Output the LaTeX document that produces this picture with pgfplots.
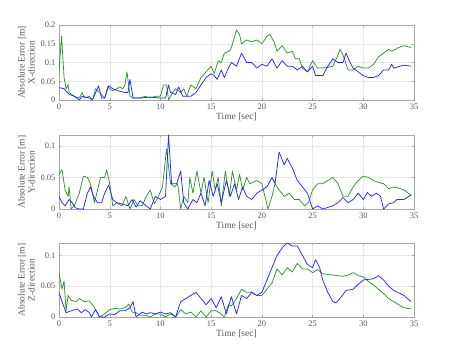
\documentclass[border=0pt]{standalone}
\usepackage{fontspec}
\setmainfont{Liberation Serif}
\usepackage{pgfplots}
\pgfplotsset{compat=1.18}

\definecolor{errgreen}{rgb}{0.18,0.58,0.18}
\definecolor{errblue}{rgb}{0.15,0.15,1}

\pgfplotsset{
  errax/.style={
    scale only axis, width=355pt, height=74pt,
    anchor=south west,
    xmin=0, xmax=35, ymin=0,
    xtick={0,5,...,35},
    axis line style={gray!70},
    grid=major, major grid style={gray!18, line width=0.4pt},
    tick style={gray!70}, major tick length=2pt,
    tick align=inside,
    tick label style={font=\fontsize{8.5}{9.5}\selectfont, text=black!65},
    label style={font=\fontsize{9.5}{10}\selectfont, text=black!65},
    /pgf/number format/assume math mode=true,
    /pgf/number format/fixed,
    /pgf/number format/precision=2,
    scaled y ticks=false,
    xlabel={Time [sec]},
    xlabel style={yshift=3pt},
    ylabel style={align=center, yshift=-1pt},
    every axis plot/.append style={line width=0.75pt, line join=round},
  }
}

\begin{document}
\begin{tikzpicture}
\useasboundingbox (0pt,0pt) rectangle (457pt,362pt);

% X-direction
\begin{axis}[errax, at={(59pt,262pt)}, height=75pt, ymax=0.2,
  ytick={0,0.05,0.1,0.15,0.2},
  ylabel={Absolute Error [m]\\X-direction}]
\addplot[errgreen] coordinates {
(0,0.076)(0.25,0.17)(0.5,0.06)(0.7,0.03)(0.9,0.04)(1.0,0.02)(1.5,0.01)(2,0.005)
(2.3,0.02)(2.5,0.005)(3,0.01)(3.3,0.0)(3.6,0.03)(4,0.02)(4.5,0.005)(4.8,0.035)
(5,0.03)(5.3,0.025)(5.7,0.03)(6,0.035)(6.3,0.03)(6.5,0.04)(6.7,0.075)(7,0.01)
(7.3,0.005)(8,0.005)(8.5,0.01)(9,0.005)(9.5,0.01)(10,0.01)(10.3,0.04)(10.6,0.04)
(10.8,0.0)(11.2,0.02)(11.5,0.03)(12,0.02)(12.3,0.03)(12.6,0.01)(13,0.04)(13.5,0.03)
(14,0.06)(14.5,0.075)(15,0.09)(15.3,0.07)(15.7,0.105)(16,0.1)(16.3,0.125)(16.8,0.13)
(17,0.14)(17.5,0.187)(17.8,0.175)(18,0.15)(18.5,0.16)(19,0.155)(19.5,0.16)(20,0.15)
(20.5,0.17)(20.8,0.175)(21.2,0.155)(21.5,0.13)(22,0.145)(22.5,0.125)(23,0.13)
(23.3,0.11)(23.7,0.11)(24,0.085)(24.5,0.075)(25,0.105)(25.5,0.085)(26,0.085)
(27,0.09)(27.5,0.12)(27.7,0.135)(28,0.12)(28.5,0.08)(29,0.08)(29.5,0.09)(30,0.085)
(30.5,0.085)(31,0.095)(31.5,0.115)(32,0.125)(32.5,0.135)(32.8,0.13)(33.5,0.14)
(34,0.145)(34.7,0.14)
};
\addplot[errblue] coordinates {
(0,0.033)(0.5,0.03)(1,0.015)(1.5,0.01)(2,0.0)(2.3,0.01)(3,0.005)(3.3,0.0)
(3.7,0.025)(3.9,0.038)(4.2,0.005)(4.5,0.005)(4.9,0.038)(5.3,0.03)(5.8,0.025)
(6.5,0.02)(6.8,0.02)(7.0,0.055)(7.3,0.005)(8,0.005)(9,0.008)(10,0.005)(10.5,0.005)
(10.8,0.04)(11,0.02)(11.5,0.015)(11.8,0.035)(12.2,0.01)(12.5,0.01)(13,0.01)
(13.5,0.02)(14,0.04)(14.5,0.06)(15,0.07)(15.3,0.065)(15.6,0.055)(16,0.08)(16.3,0.06)
(16.7,0.085)(17,0.1)(17.5,0.09)(18,0.125)(18.5,0.1)(19,0.1)(19.5,0.085)(20,0.095)
(20.5,0.09)(21,0.11)(21.5,0.085)(22,0.105)(22.5,0.09)(23,0.09)(23.5,0.08)(24,0.09)
(24.5,0.075)(25,0.09)(25.3,0.065)(26,0.065)(26.5,0.09)(27,0.11)(27.5,0.1)(28,0.1)
(28.3,0.125)(28.7,0.1)(29,0.085)(29.5,0.075)(30,0.065)(30.5,0.06)(31,0.06)
(31.5,0.065)(32,0.08)(32.5,0.08)(32.8,0.095)(33,0.085)(34,0.093)(34.7,0.09)
};
\end{axis}

% Y-direction
\begin{axis}[errax, at={(59pt,153pt)}, ymax=0.117,
  ytick={0,0.05,0.1},
  ylabel={Absolute Error [m]\\Y-direction}]
\addplot[errgreen] coordinates {
(0,0.055)(0.3,0.062)(0.6,0.03)(0.9,0.02)(1.0,0.035)(1.2,0.0)(1.5,0.005)(2,0.025)
(2.4,0.052)(2.8,0.05)(3.1,0.04)(3.5,0.01)(3.8,0.03)(4.1,0.05)(4.5,0.05)(4.7,0.062)
(5,0.04)(5.3,0.005)(5.7,0.01)(6.2,0.005)(6.6,0.02)(7.0,0.0)(7.4,0.015)(7.8,0.005)
(8.2,0.005)(8.6,0.02)(9,0.03)(9.4,0.008)(9.8,0.02)(10.2,0.035)(10.6,0.095)(11,0.04)
(11.4,0.035)(11.7,0.04)(12.0,0.0)(12.3,0.02)(12.7,0.01)(12.9,0.05)(13.2,0.025)
(13.6,0.06)(14,0.025)(14.3,0.05)(14.7,0.01)(15.1,0.06)(15.4,0.03)(15.7,0.05)
(16.0,0.005)(16.4,0.06)(16.8,0.02)(17.1,0.06)(17.5,0.03)(17.8,0.055)(18.1,0.03)
(18.5,0.05)(18.8,0.04)(19.5,0.045)(20,0.04)(20.3,0.02)(20.6,0.0)(21,0.02)(21.3,0.04)
(21.7,0.03)(22.2,0.02)(22.7,0.025)(23.2,0.015)(23.7,0.015)(24.2,0.005)(24.6,0.01)
(25,0.03)(25.5,0.04)(26,0.04)(26.5,0.045)(27,0.05)(27.5,0.04)(28,0.02)(28.5,0.02)
(29,0.035)(29.5,0.045)(30,0.052)(30.5,0.05)(31,0.045)(31.5,0.042)(32,0.04)
(32.5,0.032)(33,0.035)(33.5,0.033)(34,0.03)(34.7,0.022)
};
\addplot[errblue] coordinates {
(0,0.02)(0.3,0.01)(0.6,0.005)(1.0,0.015)(1.3,0.01)(1.6,0.002)(2,0.0)(2.4,0.0)
(2.8,0.025)(3.1,0.035)(3.4,0.02)(3.8,0.01)(4.2,0.01)(4.5,0.025)(4.9,0.038)(5.3,0.015)
(5.7,0.01)(6.2,0.008)(6.8,0.005)(7.2,0.015)(7.6,0.003)(8,0.013)(8.6,0.005)(9,0.0)
(9.5,0.02)(10,0.015)(10.5,0.02)(10.8,0.117)(11.1,0.04)(11.6,0.04)(12.0,0.06)
(12.3,0.01)(12.7,0.0)(13.2,0.015)(13.6,0.01)(14,0.025)(14.4,0.005)(14.8,0.045)
(15.2,0.02)(15.6,0.04)(16,0.01)(16.5,0.045)(16.9,0.02)(17.3,0.04)(17.7,0.015)
(18.1,0.035)(18.5,0.02)(19,0.015)(19.5,0.025)(20,0.03)(20.5,0.035)(21,0.05)
(21.3,0.04)(21.7,0.09)(22.2,0.07)(22.5,0.08)(23,0.065)(23.5,0.045)(24,0.035)
(24.5,0.025)(25,0.0)(25.5,0.005)(26,0.0)(27,0.005)(27.5,0.01)(28,0.018)(28.5,0.01)
(29,0.015)(29.5,0.025)(30,0.015)(30.4,0.026)(30.8,0.02)(31.3,0.025)(31.7,0.02)
(32,0.0)(32.5,0.008)(33,0.01)(33.3,0.015)(34,0.015)(34.7,0.022)
};
\end{axis}

% Z-direction
\begin{axis}[errax, at={(59pt,45pt)}, ymax=0.12,
  ytick={0,0.05,0.1},
  ylabel={Absolute Error [m]\\Z-direction}]
\addplot[errgreen] coordinates {
(0,0.072)(0.3,0.045)(0.5,0.058)(0.7,0.01)(0.9,0.035)(1.2,0.027)(1.7,0.025)(2.0,0.03)
(2.5,0.025)(3,0.026)(3.5,0.015)(4,0.0)(4.5,0.005)(5,0.012)(5.5,0.014)(6,0.013)
(6.5,0.015)(6.9,0.021)(7.2,0.008)(7.6,0.007)(8,0.003)(8.5,0.003)(9,0.0)(9.5,0.005)
(10,0.005)(10.5,0.0)(11,0.005)(11.5,0.0)(12,0.012)(12.5,0.005)(13,0.008)(13.5,0.0)
(14,0.01)(14.5,0.0)(15,0.01)(15.5,0.01)(16,0.005)(16.3,0.0)(16.7,0.02)(17,0.018)
(17.5,0.03)(18,0.045)(18.5,0.04)(19,0.04)(19.5,0.035)(20,0.035)(20.5,0.045)
(21,0.055)(21.5,0.078)(22,0.068)(22.5,0.08)(23,0.073)(23.5,0.087)(24,0.078)
(24.5,0.078)(25,0.072)(25.5,0.077)(26,0.07)(27,0.068)(28,0.066)(28.5,0.068)
(29,0.072)(29.5,0.067)(30,0.065)(30.5,0.058)(31,0.052)(31.5,0.045)(32,0.038)
(32.5,0.03)(33,0.025)(33.5,0.02)(34,0.015)(34.7,0.013)
};
\addplot[errblue] coordinates {
(0,0.04)(0.3,0.025)(0.7,0.007)(1.2,0.01)(1.8,0.013)(2.2,0.007)(2.6,0.012)(3,0.007)
(3.2,0.0)(3.6,0.012)(4,0.0)(4.5,0.0)(5,0.005)(5.5,0.004)(6,0.01)(6.5,0.01)(7.0,0.015)
(7.3,0.025)(7.6,0.0)(8.2,0.008)(8.6,0.005)(9,0.007)(9.5,0.005)(10,0.008)(10.5,0.005)
(11,0.007)(11.5,0.0)(12,0.025)(12.5,0.03)(13,0.035)(13.5,0.04)(14,0.03)(14.5,0.02)
(15,0.03)(15.5,0.015)(16,0.033)(16.5,0.005)(17,0.033)(17.5,0.005)(18,0.035)
(18.5,0.03)(19,0.04)(19.5,0.035)(20,0.04)(20.5,0.06)(21,0.08)(21.5,0.1)(22,0.112)
(22.5,0.12)(23,0.115)(23.5,0.115)(24,0.1)(24.5,0.085)(25,0.08)(25.3,0.093)
(25.7,0.08)(26,0.06)(26.5,0.04)(27,0.025)(27.3,0.023)(27.7,0.03)(28.3,0.043)
(29,0.045)(29.5,0.053)(30,0.06)(31,0.062)(31.5,0.067)(32,0.06)(32.5,0.05)(33,0.043)
(34,0.035)(34.7,0.025)
};
\end{axis}
\end{tikzpicture}
\end{document}
